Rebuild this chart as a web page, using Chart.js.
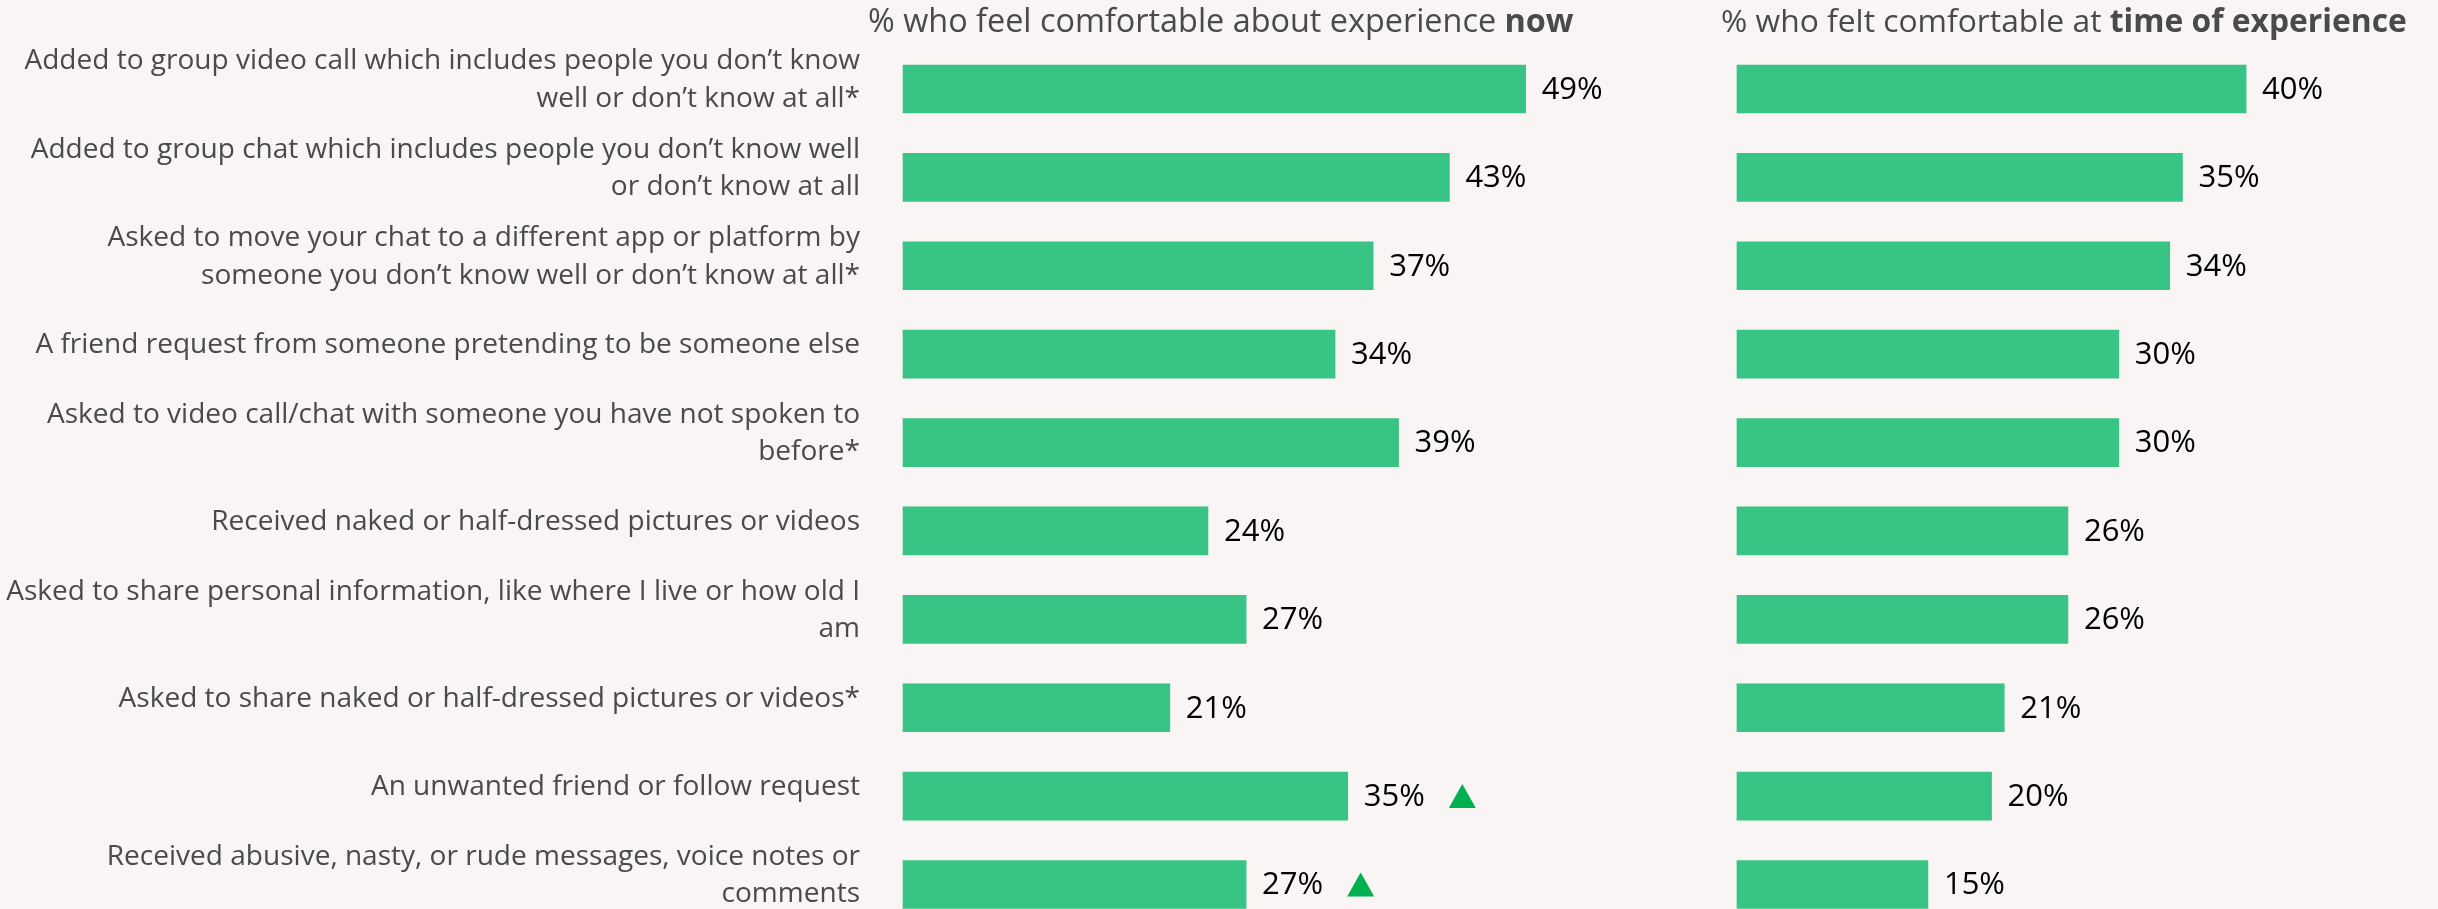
<!DOCTYPE html>
<html><head><meta charset="utf-8">
<script src="https://cdn.jsdelivr.net/npm/chart.js@4.4.1/dist/chart.umd.min.js"></script>
<style>
html,body{margin:0;padding:0;background:#f8f5f4;width:2438px;height:909px;overflow:hidden;}
#a{position:absolute;left:0;top:0;}
#b{position:absolute;left:1700px;top:0;}
</style></head><body>
<canvas id="a" width="1640" height="909"></canvas>
<canvas id="b" width="737" height="909"></canvas>
<script>
// ---- data ----
const categories = [
  ["Added to group video call which includes people you don\u2019t know", "well or don\u2019t know at all*"],
  ["Added to group chat which includes people you don\u2019t know well", "or don\u2019t know at all"],
  ["Asked to move your chat to a different app or platform by", "someone you don\u2019t know well or don\u2019t know at all*"],
  "A friend request from someone pretending to be someone else",
  ["Asked to video call/chat with someone you have not spoken to", "before*"],
  "Received naked or half-dressed pictures or videos",
  ["Asked to share personal information, like where I live or how old I", "am"],
  "Asked to share naked or half-dressed pictures or videos*",
  "An unwanted friend or follow request",
  ["Received abusive, nasty, or rude messages, voice notes or", "comments"]
];
const nowValues  = [49, 43, 37, 34, 39, 24, 27, 21, 35, 27];
const timeValues = [40, 35, 34, 30, 30, 26, 26, 21, 20, 15];
const nowSignificantUp = [false, false, false, false, false, false, false, false, true, true];
const timeSignificantUp = [false, false, false, false, false, false, false, false, false, false];
const titleNow  = ["% who feel comfortable about experience ", "now"];
const titleTime = ["% who felt comfortable at ", "time of experience"];

// ---- styles ----
const FONT = "'Open Sans'";
const BAR = '#37c484';
const TEXT_GREY = '#4a4a4a';

const mctx = document.createElement('canvas').getContext('2d');
function widthAt(text, weight, size) {
  mctx.font = `${weight} ${size}px ${FONT}`;
  return mctx.measureText(text).width;
}
const labelSize = 836 / widthAt(categories[0][0], 'normal', 100) * 100;

const valueLabels = {
  id: 'valueLabels',
  afterDatasetsDraw(chart, args, opts) {
    const ctx = chart.ctx;
    const meta = chart.getDatasetMeta(0);
    const values = chart.data.datasets[0].data;
    ctx.save();
    ctx.font = `normal ${opts.size}px ${FONT}`;
    ctx.textBaseline = 'middle';
    ctx.textAlign = 'left';
    meta.data.forEach((bar, i) => {
      const txt = values[i] + '%';
      const x = bar.x + 16;
      ctx.fillStyle = '#000';
      ctx.fillText(txt, x, bar.y + 1);
      if (opts.significant && opts.significant[i]) {
        const w = ctx.measureText(txt).width;
        const tx = x + w + 24;
        ctx.beginPath();
        ctx.moveTo(tx, bar.y + 12);
        ctx.lineTo(tx + 27, bar.y + 12);
        ctx.lineTo(tx + 13.5, bar.y - 12);
        ctx.closePath();
        ctx.fillStyle = '#00b050';
        ctx.fill();
      }
    });
    ctx.restore();
  }
};

const panelTitle = {
  id: 'panelTitle',
  afterDraw(chart, args, opts) {
    const ctx = chart.ctx;
    const [reg, bold] = opts.text;
    const total = widthAt(reg, 'normal', 100) + widthAt(bold, 'bold', 100);
    const size = opts.width / total * 100;
    ctx.save();
    ctx.fillStyle = TEXT_GREY;
    ctx.textBaseline = 'alphabetic';
    ctx.textAlign = 'left';
    ctx.font = `normal ${size}px ${FONT}`;
    ctx.fillText(reg, opts.x, 32);
    const w1 = ctx.measureText(reg).width;
    ctx.font = `bold ${size}px ${FONT}`;
    ctx.fillText(bold, opts.x + w1, 32);
    ctx.restore();
  }
};

function makeChart(id, values, sig, title, withLabels, xMax, padLeft) {
  return new Chart(document.getElementById(id), {
    type: 'bar',
    data: {
      labels: categories,
      datasets: [{ data: values, backgroundColor: BAR, borderWidth: 0, barThickness: 48, clip: false }]
    },
    options: {
      indexAxis: 'y',
      responsive: false,
      animation: false,
      devicePixelRatio: 1,
      layout: { padding: { top: 89, bottom: 24.5, left: padLeft, right: 0 } },
      plugins: {
        legend: { display: false },
        tooltip: { enabled: false },
        valueLabels: { size: 31, significant: sig },
        panelTitle: { text: title, x: title.x, width: title.w }
      },
      scales: {
        x: { type: 'linear', display: false, min: 0, max: xMax },
        y: {
          display: withLabels,
          offset: false,
          grid: { display: false, drawTicks: false },
          border: { display: false },
          ticks: {
            autoSkip: false,
            padding: 43,
            labelOffset: -9,
            color: TEXT_GREY,
            font: { family: FONT, size: labelSize, lineHeight: '37.5px' }
          },
          afterFit(s) {
            if (withLabels) { s.width = 903; }
            s.paddingTop = 0; s.paddingBottom = 0;
          }
        }
      }
    },
    plugins: [valueLabels, panelTitle]
  });
}
titleNow.x = 868; titleNow.w = 706;
titleTime.x = 21; titleTime.w = 686;
makeChart('a', nowValues, nowSignificantUp, titleNow, true, 58, 0);
makeChart('b', timeValues, timeSignificantUp, titleTime, false, 55, 37);
</script>
</body></html>
